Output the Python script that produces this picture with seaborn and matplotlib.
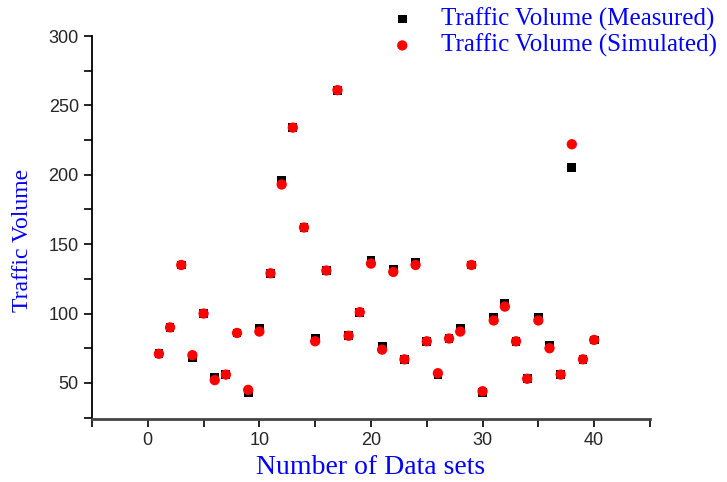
import matplotlib
matplotlib.use("Agg")
import matplotlib.pyplot as plt
import seaborn as sns
import pandas as pd
from matplotlib.ticker import MultipleLocator

# data sets 1..40
data_sets = list(range(1, 41))
measured = [71, 90, 135, 68, 100, 54, 56, 86, 43, 89,
            129, 196, 234, 162, 82, 131, 261, 84, 101, 138,
            76, 132, 67, 137, 80, 56, 82, 89, 135, 43,
            97, 107, 80, 53, 97, 77, 56, 205, 67, 81]
simulated = [71, 90, 135, 70, 100, 52, 56, 86, 45, 87,
             129, 193, 234, 162, 80, 131, 261, 84, 101, 136,
             74, 130, 67, 135, 80, 57, 82, 87, 135, 44,
             95, 105, 80, 53, 95, 75, 56, 222, 67, 81]

df = pd.DataFrame({"set": data_sets, "measured": measured, "simulated": simulated})

sns.set_style("ticks")
plt.rcParams["font.family"] = ["Liberation Sans", "DejaVu Sans"]

fig = plt.figure(figsize=(7.27, 4.82), dpi=100)
ax = fig.add_axes([0.1265, 0.1307, 0.7675, 0.7946])

sns.scatterplot(data=df, x="set", y="measured", marker="s", color="black",
                s=40, edgecolor="none", label="Traffic Volume (Measured)", ax=ax)
sns.scatterplot(data=df, x="set", y="simulated", marker="o", color="red",
                s=55, edgecolor="none", label="Traffic Volume (Simulated)", ax=ax)

ax.set_xlim(-5, 45)
ax.set_ylim(24, 300)
ax.xaxis.set_major_locator(MultipleLocator(10))
ax.xaxis.set_minor_locator(MultipleLocator(5))
ax.yaxis.set_major_locator(MultipleLocator(50))
ax.yaxis.set_minor_locator(MultipleLocator(25))
ax.tick_params(which="both", direction="out", length=6, width=1.2, labelsize=13, color="black")

for side in ["top", "right"]:
    ax.spines[side].set_visible(False)
ax.spines["left"].set_color("black")
ax.spines["left"].set_linewidth(1.3)
ax.spines["bottom"].set_color("#444444")
ax.spines["bottom"].set_linewidth(2)

serif = ["Liberation Serif", "DejaVu Serif"]
ax.set_xlabel("Number of Data sets", fontsize=20, color="blue", family=serif, labelpad=4)
ax.set_ylabel("Traffic Volume", fontsize=17, color="blue", family=serif)
ax.yaxis.set_label_coords(-0.105, 0.465)

leg = ax.legend(loc="upper right", bbox_to_anchor=(1.0, 1.005), bbox_transform=fig.transFigure,
                frameon=False, handlelength=1.0, handletextpad=1.05, borderaxespad=0.0,
                labelspacing=0.12, prop={"family": serif, "size": 18})
for t in leg.get_texts():
    t.set_color("blue")

fig.savefig("out.png", dpi=100)
